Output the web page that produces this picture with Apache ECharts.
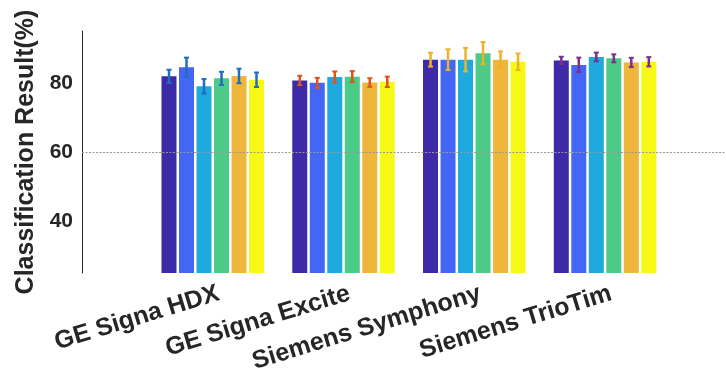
<!DOCTYPE html>
<html>
<head>
<meta charset="utf-8">
<script src="https://cdn.jsdelivr.net/npm/echarts@6/dist/echarts.min.js"></script>
<style>
  html, body { margin: 0; padding: 0; background: #fff; }
  #chart { width: 726px; height: 381px; }
</style>
</head>
<body>
<div id="chart"></div>
<script>
// Scanner categories along the x axis
const scanners = ['GE Signa HDX', 'GE Signa Excite', 'Siemens Symphony', 'Siemens TrioTim'];

// Mean classification result (%) of the six methods for each scanner
const hdxMean      = [81.9, 84.5, 79.0, 81.3, 82.0, 80.9];
const exciteMean   = [80.7, 80.0, 81.7, 81.8, 80.1, 80.3];
const symphonyMean = [86.7, 86.7, 86.7, 88.6, 86.7, 86.1];
const trioMean     = [86.5, 85.2, 87.5, 87.1, 85.9, 86.1];

// Error half-widths (%) for the same bars
const hdxErr      = [1.9, 2.8, 2.1, 1.9, 2.1, 2.1];
const exciteErr   = [1.35, 1.45, 1.6, 1.6, 1.25, 1.5];
const symphonyErr = [2.0, 3.0, 3.4, 3.2, 2.4, 2.4];
const trioErr     = [1.05, 2.1, 1.25, 1.15, 1.35, 1.35];

// Y tick labels
const yTicks = [40, 60, 80];

const means = [hdxMean, exciteMean, symphonyMean, trioMean];
const errs  = [hdxErr, exciteErr, symphonyErr, trioErr];

const barColors = ['#3D2AA8', '#4466F5', '#1EA9DF', '#4BCB87', '#EEB63A', '#F8F816'];
const errColors = ['#1F6FC0', '#DD551C', '#EFB128', '#7E2F8E'];

const FONT = '"Liberation Sans", Arial, sans-serif';
const BAR_W = 15;
const BAR_STEP = 17.5;

const series = [];
for (let m = 0; m < 6; m++) {
  series.push({
    type: 'bar',
    xAxisIndex: 0,
    yAxisIndex: 0,
    barWidth: BAR_W,
    barGap: '16.7%',
    itemStyle: { color: barColors[m] },
    data: scanners.map((s, c) => [c + 1, means[c][m]]),
    markLine: m === 0 ? {
      silent: true,
      symbol: 'none',
      label: { show: false },
      lineStyle: { color: '#999999', type: [2, 1.5], width: 1 },
      data: [{ yAxis: 60 }]
    } : undefined,
    z: 2
  });
}

// Error bars drawn over each bar, offset to the bar's slot in its group
for (let m = 0; m < 6; m++) {
  const offset = (m - 2.5) * BAR_STEP;
  series.push({
    type: 'custom',
    xAxisIndex: 0,
    yAxisIndex: 0,
    z: 5,
    data: scanners.map((s, c) => [c + 1, means[c][m], errs[c][m], c]),
    renderItem: function (params, api) {
      const x = api.value(0), v = api.value(1), e = api.value(2), c = api.value(3);
      const top = api.coord([x, v + e]);
      const bot = api.coord([x, v - e]);
      const cx = top[0] + offset;
      const col = errColors[c];
      const cap = 2.5;
      return {
        type: 'group',
        children: [
          { type: 'line', shape: { x1: cx, y1: top[1], x2: cx, y2: bot[1] }, style: { stroke: col, lineWidth: 2.5 } },
          { type: 'line', shape: { x1: cx - cap, y1: top[1], x2: cx + cap, y2: top[1] }, style: { stroke: col, lineWidth: 2 } },
          { type: 'line', shape: { x1: cx - cap, y1: bot[1], x2: cx + cap, y2: bot[1] }, style: { stroke: col, lineWidth: 2 } }
        ]
      };
    }
  });
}

const chart = echarts.init(document.getElementById('chart'), null, { renderer: 'canvas' });
chart.setOption({
  animation: false,
  backgroundColor: '#ffffff',
  grid: [
    // plotting area: x runs 0..4.925 so groups sit at 1..4
    { left: 82, right: 0, top: 31, bottom: 108, outerBoundsMode: 'none', containLabel: false },
    // strip carrying the scanner names, one band per group
    { left: 153.3, width: 523.2, top: 31, bottom: 108, outerBoundsMode: 'none', containLabel: false }
  ],
  xAxis: [
    {
      type: 'value',
      gridIndex: 0,
      min: 0,
      max: 4.925,
      interval: 1,
      axisLine: { show: false },
      axisTick: { show: false },
      axisLabel: { show: false },
      splitLine: { show: false }
    },
    {
      type: 'category',
      gridIndex: 1,
      data: scanners,
      position: 'bottom',
      axisLine: { show: false },
      axisTick: { show: false },
      splitLine: { show: false },
      axisLabel: {
        interval: 0,
        rotate: 17,
        margin: 20,
        fontSize: 25,
        fontWeight: 'bold',
        fontFamily: FONT,
        color: '#262626'
      }
    }
  ],
  yAxis: [
    {
      type: 'value',
      gridIndex: 0,
      min: 25,
      max: 95,
      interval: 5,
      name: 'Classification Result(%)',
      nameLocation: 'middle',
      nameGap: 42,
      nameTextStyle: { fontSize: 25, fontWeight: 'bold', fontFamily: FONT, color: '#262626' },
      axisLine: { show: true, lineStyle: { color: '#262626', width: 1 } },
      axisTick: { show: false },
      splitLine: { show: false },
      axisLabel: {
        margin: 9,
        fontSize: 21,
        fontWeight: 'bold',
        fontFamily: FONT,
        color: '#262626',
        formatter: function (v) { return yTicks.indexOf(v) >= 0 ? String(v) : ''; }
      }
    },
    {
      type: 'value',
      gridIndex: 1,
      min: 25,
      max: 95,
      show: false
    }
  ],
  series: series
});
</script>
</body>
</html>
